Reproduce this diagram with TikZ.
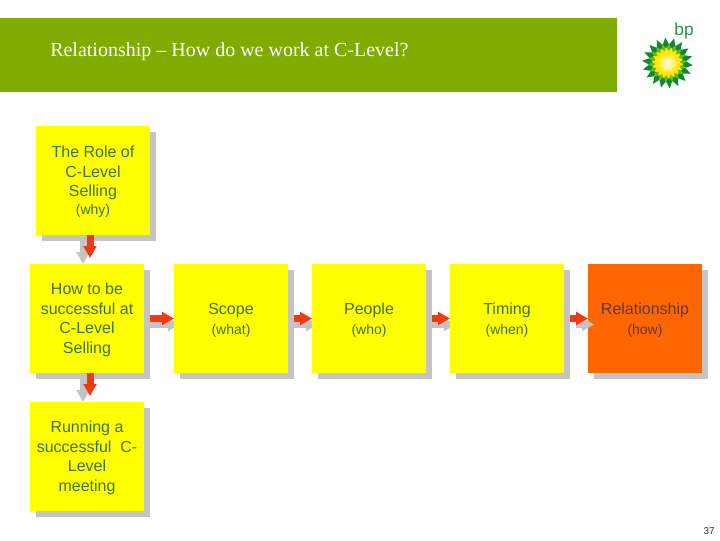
\documentclass[tikz,border=0pt]{standalone}
\usepackage{fontspec}
\setmainfont{Liberation Sans}
\newfontfamily\titlefont{Liberation Serif}
\usetikzlibrary{arrows.meta,shadows,backgrounds,calc}
\definecolor{olivebar}{HTML}{80AB00}
\definecolor{boxyellow}{HTML}{FFFF00}
\definecolor{boxorange}{HTML}{FF6600}
\definecolor{boxtext}{HTML}{40742C}
\definecolor{hottext}{HTML}{5A3A40}
\definecolor{shadowgrey}{HTML}{C4C4C4}
\definecolor{arrowred}{HTML}{F03A10}
\definecolor{bpdark}{HTML}{0F8A2E}
\definecolor{bpgreen}{HTML}{6DB81E}
\definecolor{bpyellow}{HTML}{FFE600}
\definecolor{bptext}{HTML}{2F8F4E}
\tikzset{
  card/.style={minimum width=85.5pt,minimum height=81.75pt,inner sep=0pt,outer sep=0pt,
    fill=boxyellow,text=boxtext,align=center,
    font=\fontsize{12pt}{14.6pt}\selectfont,
    copy shadow={shadow xshift=4.5pt,shadow yshift=-4.5pt,fill=shadowgrey,draw=none,opacity=1}},
  hotcard/.style={card,fill=boxorange,text=hottext},
  flowred/.style={draw=arrowred,line width=5.25pt,-{Triangle[width=9.5pt,length=9pt,fill=arrowred]}},
  flowgrey/.style={draw=shadowgrey,line width=5.25pt,-{Triangle[width=9.5pt,length=9pt,fill=shadowgrey]}},
}
\newcommand{\subl}[1]{{\fontsize{10.5pt}{14pt}\selectfont #1}}
\newcommand{\firstl}{\rule{0pt}{11pt}}
\newcommand{\starpts}[3]{% outer, inner, colour
  \fill[#3] plot[samples at={0,...,35},variable=\k]
    ({667.5+(mod(\k,2)==0?#1:#2)*cos(\k*10+5)},{63+(mod(\k,2)==0?#1:#2)*sin(\k*10+5)}) -- cycle;}
\begin{document}
\begin{tikzpicture}[x=0.75pt,y=-0.75pt]
\useasboundingbox (0,0) rectangle (720,540);
\fill[olivebar] (0,18) rectangle (617,92);
\node[anchor=base west,inner sep=0pt,text=white,font=\titlefont\fontsize{15pt}{18pt}\selectfont] (title) at (50,56) {Relationship – How do we work at C-Level?};

\node[card] (why) at (93,180.5) {\firstl The Role of\\C-Level\\Selling\\[-1pt]\subl{(why)}};
\node[card] (how) at (87,318.5) {\firstl How to be\\successful at\\C-Level\\Selling};
\node[card] (run) at (87,456.5) {\firstl Running a\\successful\ \ C-\\Level\\meeting};
\node[card] (scope) at (231,318.5) {\firstl Scope\\[0.75pt]\subl{(what)}};
\node[card] (people) at (369,318.5) {\firstl People\\[0.75pt]\subl{(who)}};
\node[card] (timing) at (507,318.5) {\firstl Timing\\[0.75pt]\subl{(when)}};
\node[hotcard] (rel) at (645,318.5) {\firstl Relationship\\[0.75pt]\subl{(how)}};

\begin{scope}[on background layer]
  \draw[flowgrey] ($(why.south)+(-10,6)$) -- ($(how.north)+(-4,0)$);
  \draw[flowgrey] ($(how.south)+(-4,6)$) -- ($(run.north)+(-4,0)$);
  \foreach \a/\b in {how/scope,scope/people,people/timing}
    \draw[flowgrey] ($(\a.east)+(6,6)$) -- ($(\b.west)+(6,6)$);
\end{scope}
\draw[flowgrey] ($(timing.east)+(12,6)$) -- ($(rel.west)+(6,6)$);
\draw[flowred] ($(why.south)+(-3,0)$) -- ($(how.north)+(3,-6)$);
\draw[flowred] ($(how.south)+(3,0)$) -- ($(run.north)+(3,-6)$);
\foreach \a/\b in {how/scope,scope/people,people/timing,timing/rel}
  \draw[flowred] ($(\a.east)+(6,0)$) -- (\b.west);

% logo
\starpts{25.5}{18.5}{bpdark}
\begin{scope}[rotate around={10:(667.5,63)}]
\starpts{20}{14}{bpgreen}
\end{scope}
\starpts{16}{12}{bpyellow}
\shade[inner color=white,outer color=bpyellow] (667.5,63) circle (11);
\node[anchor=base,inner sep=0pt,text=bptext,font=\fontsize{13pt}{15pt}\selectfont] (bp) at (684,35) {bp};
\node[anchor=base east,inner sep=0pt,text=black!80,font=\fontsize{7.5pt}{9pt}\selectfont] (pagenum) at (715,534) {37};
\end{tikzpicture}
\end{document}
